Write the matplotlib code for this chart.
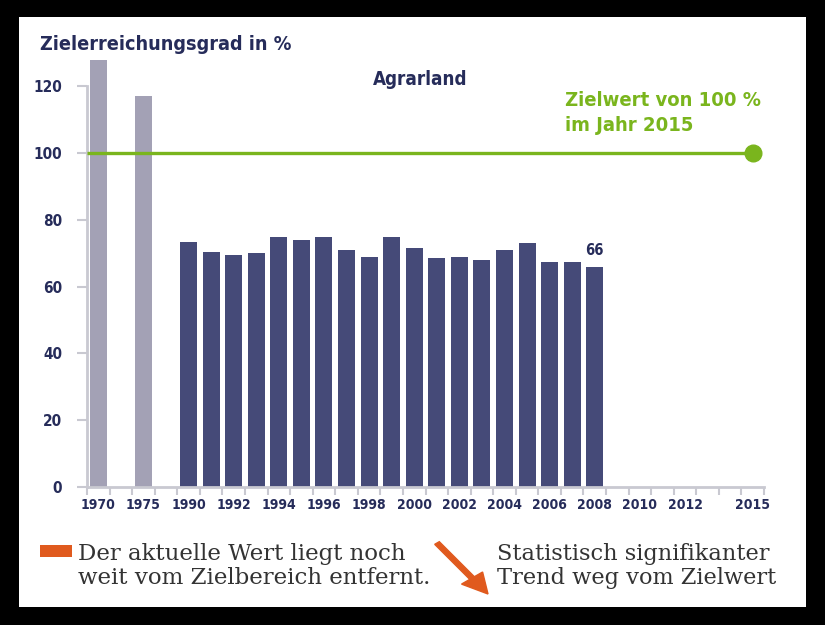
import matplotlib.pyplot as plt
from matplotlib.patches import Rectangle, FancyArrow
from matplotlib.font_manager import FontProperties

# Slots on the x axis (blank slots are the gaps in the timeline)
slots = ["1970", "", "1975", "", "1990", "1991", "1992", "1993", "1994", "1995",
         "1996", "1997", "1998", "1999", "2000", "2001", "2002", "2003", "2004",
         "2005", "2006", "2007", "2008", "2009", "2010", "2011", "2012", "2013",
         "2014", "2015"]
shown_labels = ["1970", "1975", "1990", "1992", "1994", "1996", "1998", "2000",
                "2002", "2004", "2006", "2008", "2010", "2012", "2015"]

old_years = ["1970", "1975"]
old_values = [128, 117]
years = ["1990", "1991", "1992", "1993", "1994", "1995", "1996", "1997", "1998",
         "1999", "2000", "2001", "2002", "2003", "2004", "2005", "2006", "2007",
         "2008"]
values = [73.5, 70.5, 69.5, 70, 75, 74, 75, 71, 69, 75, 71.5, 68.5, 69, 68,
          71, 73, 67.5, 67.5, 66]
target_value = 100
target_year = "2015"
yticks = [0, 20, 40, 60, 80, 100, 120]

navy = "#454a78"
grey_bar = "#a3a1b5"
green = "#7ab51d"
orange = "#e05a1e"
text_navy = "#262c5a"
axis_grey = "#c9c9d1"
serif = "DejaVu Serif"

W, H = 825, 625


def px(x, y):
    return x / W, 1 - y / H


def cfont(size):
    # condensed bold sans, close to the DIN-like face of the original
    return FontProperties(family="DejaVu Sans", stretch="condensed",
                          weight="bold", size=size)


fig = plt.figure(figsize=(W / 100, H / 100), dpi=100, facecolor="black")
fig.patches.append(Rectangle(px(19, 607), (806 - 19) / W, (607 - 17) / H,
                             transform=fig.transFigure, facecolor="white",
                             edgecolor="none", zorder=-5))

left, right = px(87, 0)[0], px(764, 0)[0]
bottom, top = px(0, 487)[1], px(0, 49.5)[1]
ax = fig.add_axes([left, bottom, right - left, top - bottom])
ax.set_facecolor("none")

pos = {s: i for i, s in enumerate(slots)}
ax.bar([pos[y] for y in old_years], old_values, width=0.75, color=grey_bar, zorder=2)
ax.bar([pos[y] for y in years], values, width=0.75, color=navy, zorder=2)

ax.set_xlim(-0.5, len(slots) - 0.5)
ax.set_ylim(0, 131)

# target line
ax.plot([-0.5, pos[target_year]], [target_value, target_value], color=green,
        lw=2.4, zorder=3, solid_capstyle="butt")
ax.plot([pos[target_year]], [target_value], "o", color=green, ms=12, zorder=4,
        clip_on=False)

ax.text(pos[years[-1]], values[-1] + 2.5, f"{values[-1]:.0f}", ha="center",
        va="bottom", color=text_navy, fontproperties=cfont(10.5))

ax.text(14.25, 122, "Agrarland", ha="center", va="center", color=text_navy,
        fontproperties=cfont(13.5))
ax.text(20.7, 112, "Zielwert von 100 %\nim Jahr 2015", ha="left", va="center",
        color=green, fontproperties=cfont(14.5), linespacing=1.45)

# axes styling
for s in ["top", "right"]:
    ax.spines[s].set_visible(False)
ax.spines["left"].set_bounds(0, 120)
ax.spines["left"].set_color(axis_grey)
ax.spines["left"].set_linewidth(2)
ax.spines["bottom"].set_color(axis_grey)
ax.spines["bottom"].set_linewidth(2)

ax.set_yticks(yticks)
ax.set_yticklabels([str(v) for v in yticks])
ax.tick_params(axis="y", length=7, width=1.5, color=axis_grey, pad=11,
               labelcolor=text_navy)
ax.set_xticks([pos[s] for s in shown_labels])
ax.set_xticklabels(shown_labels)
ax.set_xticks([i - 0.5 for i in range(len(slots) + 1)], minor=True)
ax.tick_params(axis="x", which="major", length=0, pad=8, labelcolor=text_navy)
ax.tick_params(axis="x", which="minor", length=6, width=1.5, color=axis_grey)
for lab in ax.get_yticklabels():
    lab.set_fontproperties(cfont(11))
for lab in ax.get_xticklabels():
    lab.set_fontproperties(cfont(10))

fig.text(*px(40, 45), "Zielerreichungsgrad in %", ha="left", va="center",
         color=text_navy, fontproperties=cfont(14.2))

# bottom legend
fig.patches.append(Rectangle(px(40, 557), 32 / W, 12 / H, transform=fig.transFigure,
                             facecolor=orange, edgecolor="none"))
fig.text(*px(78, 566), "Der aktuelle Wert liegt noch\nweit vom Zielbereich entfernt.",
         ha="left", va="center", color="#333333", fontsize=16.5, family=serif,
         linespacing=1.1)
x0, y0 = px(437, 543)
x1, y1 = px(488, 594)
fig.patches.append(FancyArrow(x0, y0, x1 - x0, y1 - y0, width=0.007,
                              head_width=0.032, head_length=0.032,
                              length_includes_head=True, transform=fig.transFigure,
                              color=orange))
fig.text(*px(497, 566), "Statistisch signifikanter\nTrend weg vom Zielwert",
         ha="left", va="center", color="#333333", fontsize=16.2, family=serif,
         linespacing=1.1)

fig.savefig("out.png", dpi=100, facecolor="black")
